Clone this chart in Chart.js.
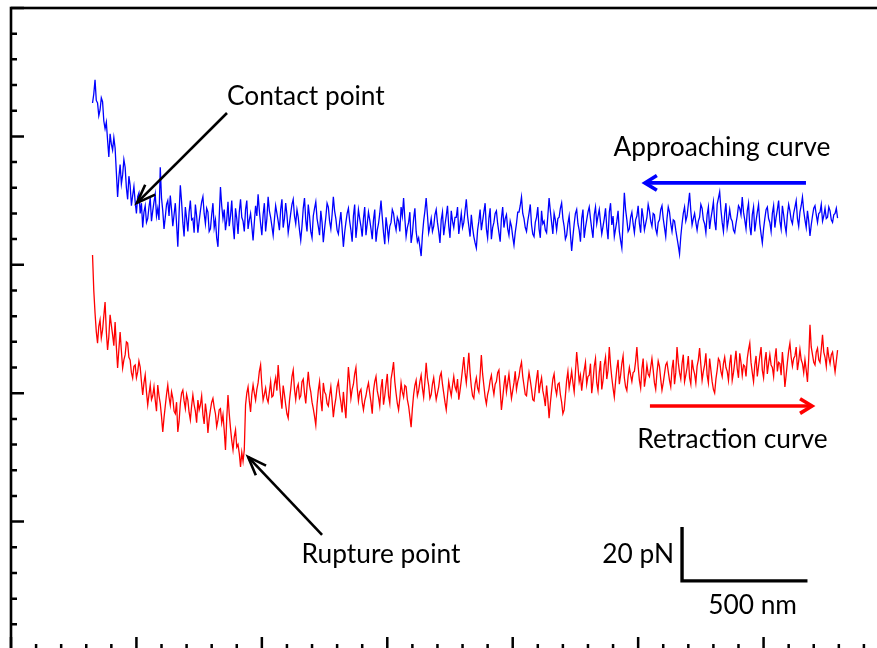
<!DOCTYPE html>
<html>
<head>
<meta charset="utf-8">
<script src="https://cdn.jsdelivr.net/npm/chart.js@4"></script>
<style>
  html, body { margin: 0; padding: 0; overflow: hidden; background: #fff; width: 877px; height: 648px; }
  canvas { display: block; }
</style>
</head>
<body>
<canvas id="c" width="900" height="662"></canvas>
<script>
// ---- data (distance in nm, force in pN) ----
const distanceStartNm = 325;
const distanceStepNm = 5;

const approachForcePN = [
  213.0, 216.5, 222.0, 214.0, 213.0, 208.0, 210.3, 215.0, 213.5, 206.0,
  203.0, 205.5, 198.5, 192.0, 201.0, 197.0, 194.7, 199.5, 195.5, 186.0,
  176.4, 184.0, 189.0, 181.5, 185.0, 191.0, 188.0, 180.0, 175.5, 184.5,
  181.0, 173.0, 177.0, 180.5, 174.5, 170.0, 176.5, 178.0, 170.0, 174.0,
  164.5, 170.5, 173.0, 166.5, 168.0, 172.5, 176.0, 167.0, 171.0, 174.5,
  177.5, 169.0, 172.0, 167.5, 188.0, 176.0, 171.0, 164.0, 168.5, 173.5,
  175.0, 169.0, 177.0, 171.5, 165.0, 169.5, 174.0, 166.0, 157.0, 170.0,
  181.0, 174.5, 166.5, 161.0, 172.5, 168.0, 163.0, 170.5, 175.0, 167.5,
  168.0, 162.5, 173.5, 169.0, 162.5, 167.0, 171.0, 174.5, 176.5, 170.0,
  166.0, 172.0, 170.5, 163.0, 164.0, 169.5, 174.0, 164.5, 167.5, 160.5,
  157.0, 168.5, 180.3, 173.0, 168.0, 171.5, 163.5, 167.5, 174.5, 165.0,
  169.0, 175.0, 165.5, 160.0, 172.0, 168.0, 162.0, 170.5, 175.5, 168.5,
  167.0, 163.0, 171.5, 175.0, 164.0, 167.5, 170.0, 165.0, 159.5, 166.5,
  173.0, 169.0, 177.5, 171.0, 166.0, 161.5, 169.5, 174.0, 163.0, 168.0,
  176.5, 171.0, 168.5, 165.0, 161.5, 167.5, 173.0, 170.0, 167.0, 163.5,
  171.5, 175.5, 164.5, 168.0, 174.0, 169.5, 162.5, 166.0, 170.0, 173.5,
  175.5, 169.0, 166.0, 171.5, 168.5, 163.5, 159.5, 165.0, 172.0, 176.0,
  167.5, 163.0, 173.5, 169.0, 163.0, 160.5, 169.0, 172.0, 174.5, 168.0,
  165.0, 161.5, 171.0, 166.5, 158.8, 164.0, 168.5, 174.0, 172.5, 167.0,
  164.0, 169.5, 176.5, 171.0, 168.0, 163.5, 162.0, 166.5, 170.5, 164.0,
  157.0, 162.5, 166.5, 170.0, 172.0, 167.0, 163.5, 159.0, 169.0, 173.5,
  160.5, 165.5, 171.5, 168.0, 165.0, 161.0, 168.0, 172.5, 161.5, 166.0,
  170.5, 167.5, 164.0, 160.0, 167.5, 171.5, 159.0, 163.5, 166.0, 170.0,
  175.0, 168.5, 162.5, 158.0, 168.5, 164.5, 160.0, 165.0, 166.5, 171.5,
  170.0, 166.0, 163.5, 168.5, 167.0, 163.0, 172.5, 169.0, 176.0, 168.0,
  161.0, 164.5, 166.5, 170.5, 158.5, 162.0, 168.0, 172.0, 163.0, 159.0,
  160.5, 157.0, 153.4, 161.5, 167.0, 171.0, 176.0, 169.5, 162.5, 165.0,
  168.0, 163.0, 165.0, 169.5, 171.5, 166.5, 163.0, 158.5, 167.5, 170.5,
  161.5, 165.5, 169.0, 173.0, 165.0, 160.5, 171.0, 167.0, 164.5, 168.5,
  168.5, 172.5, 162.0, 166.0, 170.0, 164.5, 166.5, 171.0, 175.5, 169.0,
  165.0, 161.0, 169.5, 164.5, 161.0, 158.5, 156.5, 163.5, 167.0, 171.5,
  163.5, 167.0, 170.5, 174.0, 164.0, 160.5, 168.0, 172.0, 160.0, 164.5,
  166.5, 170.0, 171.0, 166.0, 162.5, 159.0, 168.0, 172.5, 164.5, 168.0,
  169.5, 164.0, 161.5, 167.0, 165.0, 161.0, 157.7, 162.5, 166.0, 170.5,
  170.5, 173.0, 176.4, 170.0, 168.0, 164.5, 163.0, 167.0, 170.0, 173.5,
  165.5, 162.0, 161.0, 166.5, 168.5, 172.5, 164.0, 160.5, 171.0, 166.0,
  167.0, 163.5, 162.5, 169.0, 176.0, 171.0, 166.5, 162.0, 170.0, 167.5,
  163.5, 168.0, 168.5, 172.0, 174.1, 168.0, 165.0, 160.0, 161.5, 166.0,
  169.0, 162.0, 155.4, 161.0, 166.0, 170.0, 171.5, 166.0, 163.5, 159.0,
  168.0, 171.5, 160.5, 164.5, 167.5, 170.5, 172.5, 168.0, 164.0, 160.5,
  169.5, 172.5, 166.0, 169.0, 171.5, 166.5, 162.0, 165.0, 168.0, 172.0,
  164.5, 160.0, 170.5, 174.0, 165.5, 169.0, 161.0, 164.0, 167.0, 171.0,
  163.0, 159.5, 156.5, 167.0, 178.0, 171.5, 167.5, 163.0, 164.0, 168.5,
  170.5, 166.0, 162.5, 167.5, 169.0, 173.0, 166.0, 162.5, 172.0, 168.5,
  163.5, 166.0, 168.5, 173.5, 171.0, 167.0, 165.0, 170.0, 169.5, 164.0,
  162.0, 166.5, 167.5, 171.5, 173.0, 168.0, 164.5, 161.0, 168.0, 172.5,
  170.5, 166.0, 163.0, 167.5, 167.0, 163.5, 160.5, 157.5, 154.2, 161.0,
  166.0, 170.0, 172.5, 167.0, 169.0, 173.5, 178.0, 171.0, 165.5, 168.0,
  170.0, 166.5, 163.5, 167.0, 168.5, 173.5, 172.0, 167.5, 166.0, 162.5,
  169.5, 172.5, 164.0, 168.0, 171.0, 174.5, 167.0, 163.5, 173.5, 176.0,
  178.4, 171.5, 166.5, 163.0, 170.0, 174.0, 164.5, 167.5, 171.5, 168.0,
  167.0, 163.5, 162.5, 166.0, 169.0, 173.0, 172.0, 169.5, 176.4, 170.5,
  167.5, 164.0, 171.0, 174.0, 165.0, 161.5, 169.5, 172.5, 163.0, 167.0,
  170.5, 173.5, 166.0, 162.0, 158.5, 164.0, 168.0, 171.5, 172.5, 168.0,
  166.5, 163.0, 170.0, 173.0, 164.5, 168.5, 171.5, 175.0, 167.0, 164.0,
  173.0, 169.5, 165.5, 162.5, 169.5, 173.5, 171.0, 167.5, 166.0, 170.0,
  172.5, 175.0, 168.0, 165.0, 170.5, 173.0, 176.4, 171.0, 167.5, 164.5,
  171.0, 167.0, 161.2, 165.5, 169.0, 172.0, 173.0, 169.5, 166.5, 170.0,
  170.5, 173.5, 167.0, 169.0, 172.0, 168.0, 168.5, 172.5, 171.0, 167.5,
  166.5, 169.5, 170.0, 172.0, 168.2
];

const retractForcePN = [
  153.8, 140.0, 131.2, 124.0, 119.5, 126.0, 128.5, 121.5, 124.6, 130.0,
  135.5, 124.0, 116.8, 122.0, 130.5, 126.5, 122.7, 118.5, 127.7, 118.0,
  109.8, 117.0, 123.8, 116.5, 109.8, 113.0, 114.9, 120.0, 119.5, 114.0,
  112.9, 108.0, 105.9, 110.5, 111.0, 106.0, 108.3, 112.5, 110.2, 104.5,
  99.3, 104.0, 107.1, 100.5, 95.4, 99.5, 103.2, 97.5, 99.0, 102.5,
  97.3, 93.0, 103.2, 99.0, 96.0, 91.0, 84.9, 90.5, 95.0, 99.5,
  103.2, 98.5, 95.4, 100.5, 98.1, 93.0, 92.0, 96.5, 84.9, 89.0,
  96.0, 100.0, 101.2, 97.0, 94.0, 99.5, 97.3, 92.5, 89.6, 95.0,
  99.3, 95.5, 93.0, 88.5, 97.3, 93.5, 95.5, 99.0, 91.6, 88.0,
  96.0, 92.0, 84.5, 90.0, 93.5, 96.5, 98.0, 94.5, 92.0, 87.0,
  89.6, 93.5, 94.0, 88.5, 91.6, 85.5, 77.9, 90.0, 99.3, 92.0,
  86.4, 81.5, 77.9, 83.0, 85.7, 79.0, 80.0, 76.5, 71.3, 77.0,
  73.5, 78.0, 95.4, 100.0, 102.4, 97.0, 92.7, 99.5, 103.2, 100.0,
  97.3, 101.5, 104.0, 108.5, 111.0, 103.0, 97.3, 99.5, 102.0, 98.0,
  96.5, 100.5, 104.5, 98.5, 99.0, 103.5, 106.0, 101.0, 111.0, 104.0,
  98.5, 94.0, 103.0, 99.5, 95.5, 92.0, 90.3, 97.0, 101.5, 106.5,
  109.0, 101.5, 97.5, 102.0, 103.5, 98.0, 99.0, 104.5, 105.5, 100.0,
  96.0, 102.5, 108.3, 103.0, 100.5, 96.5, 94.0, 91.0, 87.6, 95.5,
  101.0, 104.5, 97.5, 93.0, 104.0, 100.5, 99.5, 96.0, 95.0, 99.0,
  102.5, 97.0, 90.7, 95.0, 98.0, 102.5, 104.5, 99.5, 96.5, 92.5,
  100.5, 95.0, 90.3, 101.0, 110.2, 104.5, 98.0, 101.5, 103.5, 107.5,
  110.0, 102.0, 97.0, 100.5, 101.5, 96.5, 93.5, 97.0, 99.0, 102.0,
  104.0, 100.0, 96.5, 92.0, 101.0, 104.5, 106.5, 101.0, 98.5, 95.0,
  102.0, 105.5, 95.5, 99.0, 103.5, 107.5, 99.0, 96.0, 105.5, 108.5,
  112.1, 104.5, 100.0, 96.0, 93.5, 98.0, 104.0, 100.5, 98.5, 103.0,
  102.5, 97.5, 95.0, 91.0, 86.8, 94.0, 99.5, 103.0, 105.0, 99.0,
  101.0, 104.5, 107.0, 102.0, 98.5, 104.5, 111.8, 106.0, 103.0, 98.0,
  99.5, 103.5, 106.0, 101.5, 97.5, 100.0, 102.5, 106.5, 108.0, 103.5,
  100.0, 96.5, 93.5, 99.0, 104.5, 101.5, 99.0, 103.0, 106.5, 102.5,
  101.0, 105.5, 97.5, 101.0, 105.0, 109.5, 114.1, 108.0, 104.0, 109.5,
  115.7, 108.0, 102.5, 99.0, 98.0, 103.5, 106.0, 102.0, 100.5, 107.0,
  114.9, 107.5, 103.0, 98.5, 95.8, 99.5, 101.5, 105.0, 107.0, 102.5,
  99.5, 103.5, 104.5, 108.0, 109.0, 101.5, 93.5, 98.0, 103.0, 107.0,
  100.5, 104.0, 107.5, 102.5, 98.0, 101.0, 104.0, 108.5, 101.5, 104.5,
  106.5, 110.0, 112.1, 106.5, 103.0, 99.5, 99.0, 104.0, 108.0, 105.0,
  101.5, 97.5, 97.0, 101.5, 105.5, 109.0, 100.0, 103.5, 106.0, 101.0,
  98.5, 95.0, 103.0, 97.5, 90.3, 96.0, 101.0, 105.5, 107.5, 102.0,
  99.5, 103.5, 104.0, 99.5, 96.5, 92.0, 93.5, 99.0, 105.0, 108.5,
  102.0, 105.0, 108.5, 104.0, 100.5, 108.0, 116.0, 110.5, 104.5, 107.0,
  101.0, 105.5, 109.0, 112.0, 103.5, 106.5, 107.0, 111.5, 100.0, 104.5,
  110.5, 113.5, 104.0, 101.0, 108.0, 112.5, 101.5, 105.0, 111.0, 114.0,
  105.5, 109.0, 118.0, 111.0, 106.0, 102.0, 98.5, 104.5, 109.5, 113.0,
  103.5, 107.0, 111.5, 114.5, 106.0, 102.5, 101.0, 106.5, 110.0, 107.0,
  104.5, 108.0, 108.5, 112.5, 118.0, 110.5, 105.0, 102.0, 109.5, 113.5,
  102.5, 106.0, 111.0, 107.5, 106.5, 110.0, 113.5, 109.0, 104.0, 101.5,
  108.0, 112.5, 110.5, 105.5, 101.2, 104.0, 107.5, 111.0, 112.0, 108.5,
  105.0, 102.5, 109.5, 113.0, 103.5, 108.0, 118.0, 112.0, 108.0, 105.5,
  111.5, 115.0, 104.5, 107.0, 110.0, 114.5, 106.0, 103.5, 113.0, 109.5,
  107.5, 104.0, 110.5, 113.0, 117.6, 111.0, 105.0, 108.5, 111.0, 115.5,
  107.0, 104.0, 113.5, 109.0, 104.5, 101.5, 100.1, 105.5, 109.0, 113.5,
  112.5, 108.5, 106.5, 111.5, 114.0, 110.0, 108.5, 105.0, 111.5, 115.0,
  105.0, 108.0, 112.0, 116.5, 109.5, 106.0, 115.5, 112.0, 107.0, 111.0,
  110.5, 106.5, 113.5, 117.0, 119.5, 112.0, 108.0, 104.5, 111.0, 114.5,
  106.5, 110.5, 114.5, 118.0, 109.0, 106.0, 112.5, 116.0, 107.5, 111.5,
  115.0, 111.0, 110.0, 106.5, 113.5, 117.5, 108.5, 112.0, 111.5, 107.0,
  116.0, 110.5, 102.4, 107.0, 112.0, 116.5, 119.5, 114.0, 110.5, 113.5,
  114.5, 118.0, 109.0, 112.5, 117.0, 113.0, 111.5, 108.0, 113.0, 109.0,
  104.4, 113.5, 126.6, 118.0, 115.0, 112.0, 111.0, 116.0, 117.5, 113.0,
  112.0, 117.0, 122.7, 116.0, 114.0, 110.5, 118.0, 114.0, 111.5, 115.0,
  116.0, 112.0, 108.3, 112.5, 116.8
];

// axis ranges and ticks (no tick labels shown in the figure)
const xRangeNm = [0, 3500];
const yRangePN = [0, 250];
const xMajorTicksNm = [0, 500, 1000, 1500, 2000, 2500, 3000, 3500];
const xMinorStepNm = 100;
const yMajorTicksPN = [0, 50, 100, 150, 200, 250];
const yMinorStepPN = 10;

// scale bar
const scaleBarForcePN = 20;
const scaleBarDistanceNm = 500;

// ---- build datasets ----
const toPoints = arr => arr.map((v, i) => ({ x: distanceStartNm + i * distanceStepNm, y: v }));

const FONT = '"Lato", "Open Sans", sans-serif';

const decor = {
  id: 'decor',
  afterDatasetsDraw(chart) {
    const { ctx, chartArea: a, scales } = chart;
    const X = v => scales.x.getPixelForValue(v);
    const Y = v => scales.y.getPixelForValue(v);
    ctx.save();
    ctx.lineCap = 'butt';

    // ticks (inward)
    ctx.strokeStyle = '#000';
    ctx.lineWidth = 2.5;
    ctx.beginPath();
    for (let v = yRangePN[0]; v <= yRangePN[1] + 1e-9; v += yMinorStepPN) {
      const major = yMajorTicksPN.includes(v);
      const py = Y(v);
      ctx.moveTo(a.left, py);
      ctx.lineTo(a.left + (major ? 13 : 6), py);
    }
    for (let v = xRangeNm[0]; v <= xRangeNm[1] + 1e-9; v += xMinorStepNm) {
      const major = xMajorTicksNm.includes(v);
      const px = X(v);
      ctx.moveTo(px, a.bottom);
      ctx.lineTo(px, a.bottom - (major ? 13 : 6));
    }
    ctx.stroke();

    // frame
    ctx.lineWidth = 2.6;
    ctx.strokeRect(a.left, a.top, a.right - a.left, a.bottom - a.top);

    // arrows
    function arrow(x1, y1, x2, y2, color, width, headLen, headAngle) {
      const px1 = X(x1), py1 = Y(y1), px2 = X(x2), py2 = Y(y2);
      ctx.strokeStyle = color;
      ctx.lineWidth = width;
      ctx.lineCap = 'butt';
      ctx.lineJoin = 'miter';
      ctx.beginPath();
      ctx.moveTo(px1, py1);
      ctx.lineTo(px2, py2);
      ctx.stroke();
      const ang = Math.atan2(py1 - py2, px1 - px2);
      ctx.beginPath();
      ctx.moveTo(px2 + headLen * Math.cos(ang + headAngle), py2 + headLen * Math.sin(ang + headAngle));
      ctx.lineTo(px2, py2);
      ctx.lineTo(px2 + headLen * Math.cos(ang - headAngle), py2 + headLen * Math.sin(ang - headAngle));
      ctx.stroke();
    }
    // contact point arrow
    arrow(861, 209.1, 502, 174.1, '#000', 2.6, 20, 0.36);
    // rupture point arrow
    arrow(1240, 44.8, 945, 75.2, '#000', 2.6, 20, 0.36);
    // approaching direction (blue, pointing left)
    arrow(3169, 181.9, 2527, 181.9, '#0000ff', 3.6, 14, 0.55);
    // retraction direction (red, pointing right)
    arrow(2547, 95.0, 3193, 95.0, '#ff0000', 3.6, 14, 0.55);

    // scale bar
    const cx = 2675, cy = 26.9;
    ctx.strokeStyle = '#000';
    ctx.lineWidth = 3.4;
    ctx.lineJoin = 'miter';
    ctx.beginPath();
    ctx.moveTo(X(cx), Y(cy + scaleBarForcePN) - 2.5);
    ctx.lineTo(X(cx), Y(cy));
    ctx.lineTo(X(cx + scaleBarDistanceNm), Y(cy));
    ctx.stroke();

    // texts
    ctx.fillStyle = '#000';
    ctx.textBaseline = 'middle';
    ctx.font = '26.3px ' + FONT;
    ctx.textAlign = 'left';
    ctx.fillText('Contact point', X(861), Y(215.7));
    ctx.textAlign = 'center';
    ctx.fillText('Approaching curve', X(2834), Y(195.5));
    ctx.fillText('Retraction curve', X(2876), Y(81.8));
    ctx.fillText('Rupture point', X(1475), Y(37.0));
    ctx.fillText('500 nm', X(2956), Y(17.5));
    ctx.textAlign = 'right';
    ctx.fillText('20 pN', X(2643), Y(37.0));
    ctx.restore();
  }
};

new Chart(document.getElementById('c'), {
  type: 'line',
  data: {
    datasets: [
      { label: 'Approaching curve', data: toPoints(approachForcePN), borderColor: '#0000ff', borderWidth: 1.3, pointRadius: 0, tension: 0, fill: false },
      { label: 'Retraction curve', data: toPoints(retractForcePN), borderColor: '#ff0000', borderWidth: 1.3, pointRadius: 0, tension: 0, fill: false }
    ]
  },
  options: {
    responsive: false,
    animation: false,
    events: [],
    layout: { padding: { left: 11, top: 8, right: 11, bottom: 12 } },
    plugins: { legend: { display: false }, tooltip: { enabled: false }, title: { display: false } },
    scales: {
      x: { type: 'linear', min: xRangeNm[0], max: xRangeNm[1], display: false },
      y: { type: 'linear', min: yRangePN[0], max: yRangePN[1], display: false }
    }
  },
  plugins: [decor]
});
</script>
</body>
</html>
